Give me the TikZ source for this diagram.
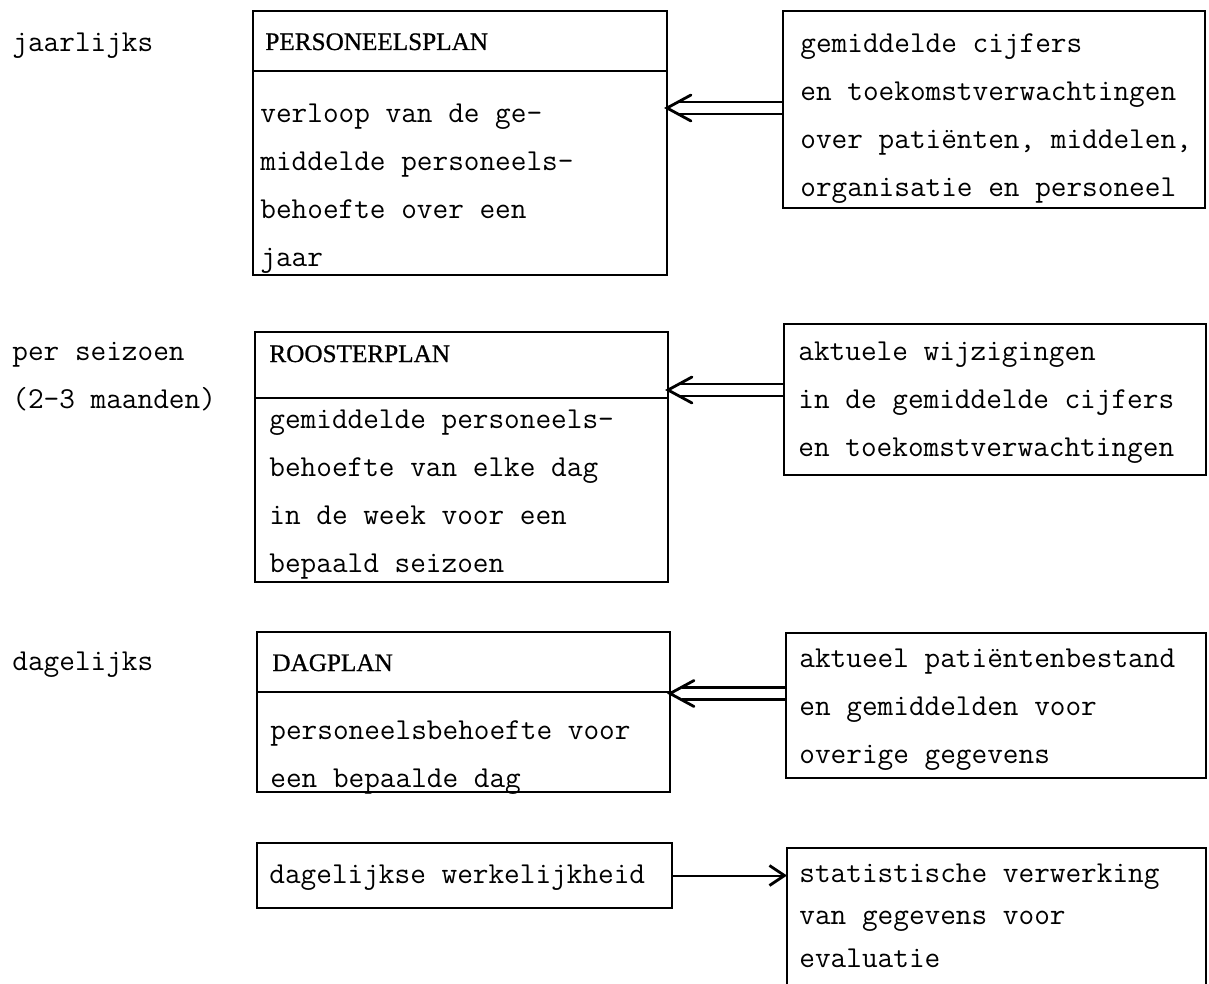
\documentclass[tikz,border=0pt]{standalone}
\usepackage{fontspec}
\newfontfamily\headfont{Liberation Serif}
\usetikzlibrary{arrows.meta,calc}
% typewriter body text, serif captions
\newcommand{\tw}{\ttfamily\addfontfeatures{FakeBold=1.5}\fontsize{15.2}{24}\selectfont}
\newcommand{\twnarrow}{\ttfamily\addfontfeatures{FakeBold=1.5}\fontsize{15.2}{21.25}\selectfont}
\newcommand{\hd}{\headfont\addfontfeatures{FakeBold=0.8}\fontsize{12.6}{15}\selectfont}
\newcommand{\st}{\rule{0pt}{12pt}}
\begin{document}
\begin{tikzpicture}[x=0.5pt,y=-0.5pt,
  frame/.style={draw, line width=1pt, inner sep=0pt, outer sep=0pt, anchor=north west},
  lbl/.style={anchor=base west, inner sep=0pt, font=\tw},
  hdr/.style={anchor=base west, inner sep=0pt, font=\hd},
  para/.style={anchor=north west, inner sep=0pt, align=left, font=\tw},
  rail/.style={line width=1.1pt},
  barb/.style={line width=1.4pt, line cap=round, line join=miter},
  flow/.style={line width=1pt, -{Straight Barb[length=7.5pt,width=10pt,line width=1.4pt]}}
]
\useasboundingbox (0,0) rectangle (1209,984);

% planning boxes (left column)
\node[frame, minimum width=207pt, minimum height=132pt] (b1) at (253,11) {};
\draw[line width=1pt] ([yshift=-30pt]b1.north west) -- ([yshift=-30pt]b1.north east);
\node[frame, minimum width=206.5pt, minimum height=125pt] (b2) at (255,332) {};
\draw[line width=1pt] ([yshift=-33pt]b2.north west) -- ([yshift=-33pt]b2.north east);
\node[frame, minimum width=206.5pt, minimum height=80pt] (b3) at (257,632) {};
\draw[line width=1pt] ([yshift=-30pt]b3.north west) -- ([yshift=-30pt]b3.north east);
\node[frame, minimum width=207.5pt, minimum height=32.5pt] (b4) at (257,843) {};

% input boxes (right column)
\node[frame, minimum width=211pt, minimum height=98.5pt] (r1) at (783,11) {};
\node[frame, minimum width=211pt, minimum height=75.5pt] (r2) at (784,324) {};
\node[frame, minimum width=210pt, minimum height=72.5pt] (r3) at (786,633) {};
\node[frame, draw=none, minimum width=209.5pt, minimum height=69pt] (r4) at (787,848) {};
\draw[line width=1pt] (r4.south west) -- (r4.north west) -- (r4.north east) -- (r4.south east);

% frequency labels
\node[lbl] (yr) at (12,52) {jaarlijks};
\node[para] (ssn) at (12,336) {\st per seizoen\\(2-3 maanden)};
\node[lbl] (day) at (12,670) {dagelijks};

% captions
\node[hdr] (h1) at (265,50) {PERSONEELSPLAN};
\node[hdr] (h2) at (269,362) {ROOSTERPLAN};
\node[hdr] (h3) at (272,671) {DAGPLAN};

% box texts
\node[para] (p1) at (260,98) {\st verloop van de ge-\\middelde personeels-\\behoefte over een\\jaar};
\node[para] (p2) at (269,404) {\st gemiddelde personeels-\\behoefte van elke dag\\in de week voor een\\bepaald seizoen};
\node[para] (p3) at (270,715) {\st personeelsbehoefte voor\\een bepaalde dag};
\node[lbl] (p4) at (269,883) {dagelijkse werkelijkheid};

\node[para] (q1) at (800,28) {\st gemiddelde cijfers\\en toekomstverwachtingen\\over patiënten, middelen,\\organisatie en personeel};
\node[para] (q2) at (798,336) {\st aktuele wijzigingen\\in de gemiddelde cijfers\\en toekomstverwachtingen};
\node[para] (q3) at (799,643) {\st aktueel patiëntenbestand\\en gemiddelden voor\\overige gegevens};
\node[para, font=\twnarrow] (q4) at (799,858) {\st statistische verwerking\\van gegevens voor\\evaluatie};

% double arrows from inputs into the plans
\foreach \r/\b/\s in {r1/b1/0.75pt, r2/b2/4.75pt, r3/b3/6pt}{
  \coordinate (s) at ([yshift=\s]\r.west);
  \coordinate (t) at (\b.east |- s);
  \draw[rail] ([yshift=3pt]s) -- ([xshift=5.75pt,yshift=3pt]t);
  \draw[rail] ([yshift=-3pt]s) -- ([xshift=5.75pt,yshift=-3pt]t);
  \draw[barb] ([xshift=12pt,yshift=6.5pt]t) -- (t) -- ([xshift=12pt,yshift=-6.5pt]t);
}

% daily reality feeds the evaluation
\draw[flow] (b4.east) -- (r4.west |- b4.east);
\end{tikzpicture}
\end{document}
